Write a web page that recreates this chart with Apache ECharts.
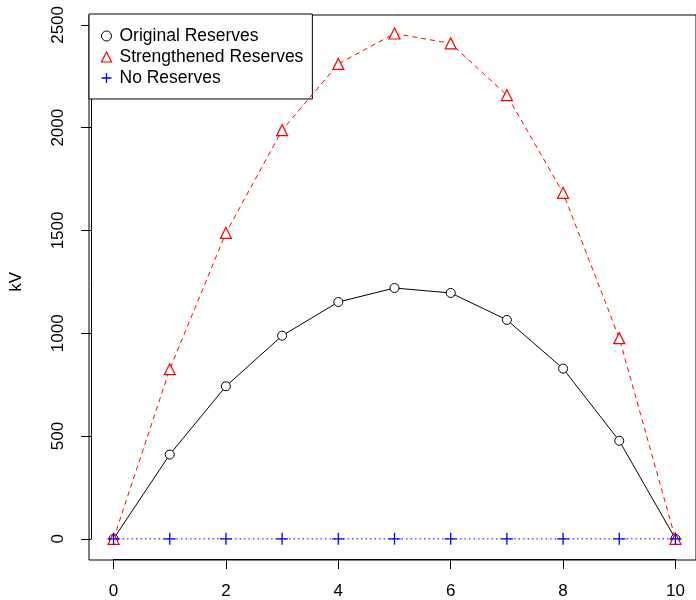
<!DOCTYPE html>
<html>
<head>
<meta charset="utf-8">
<script src="https://cdn.jsdelivr.net/npm/echarts@6/dist/echarts.min.js"></script>
<style>
html,body{margin:0;padding:0;background:#fff;}
#chart{width:696px;height:600px;}
</style>
</head>
<body>
<div id="chart"></div>
<script>
const xValues = [0, 1, 2, 3, 4, 5, 6, 7, 8, 9, 10];
const originalReserves = [0, 410, 742, 988, 1152, 1220, 1196, 1065, 828, 477, 0];
const strengthenedReserves = [0, 825, 1488, 1988, 2310, 2458, 2410, 2158, 1683, 976, 0];
const noReserves = [0, 0, 0, 0, 0, 0, 0, 0, 0, 0, 0];
const xTickRange = {min: 0, max: 10, interval: 2};
const yTickRange = {min: 0, max: 2500, interval: 500};
const seriesNames = ['Original Reserves', 'Strengthened Reserves', 'No Reserves'];
const yAxisTitle = 'kV';

// Plot box (R-style, range padded by 4%)
const W = 696, H = 600;
const box = {left: 89, top: 15, right: -2, bottom: 40};
const xPad = 0.04 * (xTickRange.max - xTickRange.min);
const yPad = 98;
const yTopPad = 48;
const boxW = W - box.left - box.right;
const boxH = H - box.top - box.bottom;
const xSpan = (xTickRange.max - xTickRange.min) + 2 * xPad;
const ySpan = (yTickRange.max - yTickRange.min) + yPad + yTopPad;
const padL = boxW * xPad / xSpan, padR = boxW * xPad / xSpan;
const padT = boxH * yTopPad / ySpan, padB = boxH * yPad / ySpan;

const pairs = arr => xValues.map((x, i) => [x, arr[i]]);
const plusPath = 'path://M0,5L10,5M5,0L5,10';
const FONT = 'Liberation Sans, Arial, Helvetica, sans-serif';

const chart = echarts.init(document.getElementById('chart'));
chart.setOption({
  animation: false,
  grid: [
    {left: box.left, top: box.top, right: box.right, bottom: box.bottom, show: true, borderColor: '#000', borderWidth: 1},
    {left: box.left + padL, top: box.top + padT, right: box.right + padR, bottom: box.bottom + padB, show: false}
  ],
  xAxis: [
    {gridIndex: 0, type: 'value', min: xTickRange.min - xPad, max: xTickRange.max + xPad, show: false},
    {
      gridIndex: 1, type: 'value', min: xTickRange.min, max: xTickRange.max, interval: xTickRange.interval,
      position: 'bottom', offset: padB,
      splitLine: {show: false},
      axisLine: {show: true, onZero: false, lineStyle: {color: '#000', width: 1}},
      axisTick: {show: true, length: 10, lineStyle: {color: '#000', width: 1}},
      axisLabel: {color: '#000', fontSize: 17, fontFamily: FONT, margin: 24, formatter: v => String(v)}
    }
  ],
  yAxis: [
    {gridIndex: 0, type: 'value', min: yTickRange.min - yPad, max: yTickRange.max + yTopPad, show: false},
    {
      gridIndex: 1, type: 'value', min: yTickRange.min, max: yTickRange.max, interval: yTickRange.interval,
      position: 'left', offset: padL,
      name: yAxisTitle, nameLocation: 'middle', nameRotate: 90, nameGap: 66,
      nameTextStyle: {color: '#000', fontSize: 17, fontFamily: FONT},
      splitLine: {show: false},
      axisLine: {show: true, onZero: false, lineStyle: {color: '#000', width: 1}},
      axisTick: {show: true, length: 10, lineStyle: {color: '#000', width: 1}},
      axisLabel: {color: '#000', fontSize: 17, fontFamily: FONT, rotate: 90, margin: 24, formatter: v => String(v)}
    }
  ],
  legend: {
    orient: 'vertical', left: 89, top: 14,
    padding: [13, 9, 12, 10], itemGap: 3,
    itemWidth: 10, itemHeight: 10,
    borderColor: '#000', borderWidth: 1, borderRadius: 0,
    backgroundColor: '#fff',
    textStyle: {color: '#000', fontSize: 17.5, fontFamily: FONT, padding: [0, 0, 0, 3]},
    data: [
      {name: seriesNames[0], icon: 'circle', itemStyle: {color: '#fff', borderColor: '#000', borderWidth: 1}},
      {name: seriesNames[1], icon: 'triangle', itemStyle: {color: '#fff', borderColor: '#ff0000', borderWidth: 1.2}},
      {name: seriesNames[2], icon: plusPath, itemStyle: {color: 'none', borderColor: '#0000ff', borderWidth: 1.3}}
    ]
  },
  series: [
    {
      name: seriesNames[0], type: 'line', xAxisIndex: 1, yAxisIndex: 1, data: pairs(originalReserves), clip: false,
      symbol: 'circle', symbolSize: 9, showAllSymbol: true,
      lineStyle: {color: '#000', width: 1, type: 'solid'},
      itemStyle: {color: '#fff', borderColor: '#000', borderWidth: 1},
      z: 3
    },
    {
      name: seriesNames[1], type: 'line', xAxisIndex: 1, yAxisIndex: 1, data: pairs(strengthenedReserves), clip: false,
      symbol: 'triangle', symbolSize: 11, showAllSymbol: true,
      lineStyle: {color: '#ff0000', width: 1, type: [5, 4]},
      itemStyle: {color: '#fff', borderColor: '#ff0000', borderWidth: 1.2},
      z: 4
    },
    {
      name: seriesNames[2], type: 'line', xAxisIndex: 1, yAxisIndex: 1, data: pairs(noReserves), clip: false,
      symbol: plusPath, symbolSize: 12, showAllSymbol: true,
      lineStyle: {color: '#0000ff', width: 1, type: [1.5, 3]},
      itemStyle: {color: 'none', borderColor: '#0000ff', borderWidth: 1.3},
      z: 5
    }
  ]
});
</script>
</body>
</html>
